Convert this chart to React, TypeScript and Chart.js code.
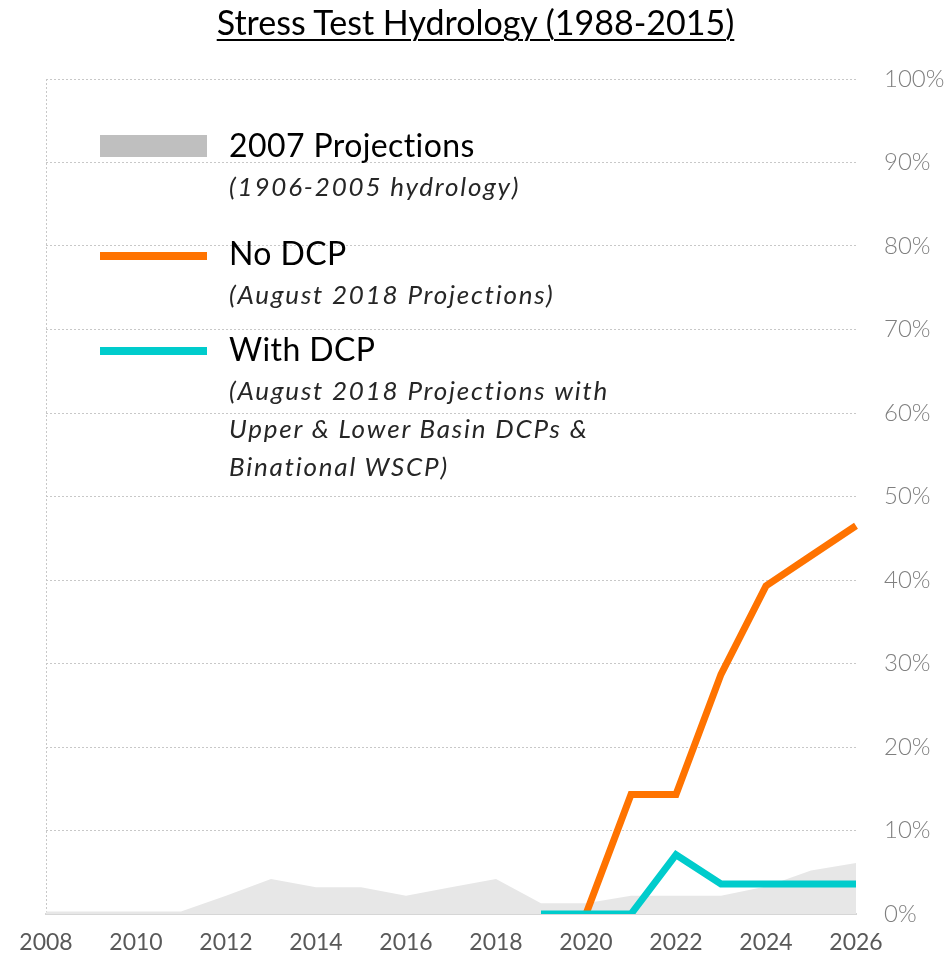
import React, { useEffect, useRef } from 'react';
import { Chart, registerables } from 'chart.js';

Chart.register(...registerables);

const years = ['2008', '2009', '2010', '2011', '2012', '2013', '2014', '2015', '2016', '2017', '2018', '2019', '2020', '2021', '2022', '2023', '2024', '2025', '2026'];
const projections2007 = [0.3, 0.3, 0.3, 0.3, 2.2, 4.2, 3.2, 3.2, 2.2, 3.2, 4.2, 1.3, 1.3, 2.2, 2.2, 2.2, 3.3, 5.2, 6.1];
const noDcp = [null, null, null, null, null, null, null, null, null, null, null, null, 0, 14.3, 14.3, 28.7, 39.3, 42.9, 46.5];
const withDcp = [null, null, null, null, null, null, null, null, null, null, null, 0, 0, 0, 7.1, 3.6, 3.6, 3.6, 3.6];

const FONT = 'Lato, "Open Sans", sans-serif';

const legendItems = [
  { text: '2007 Projections', top: 158, main: true },
  { text: '(1906-2005 hydrology)', top: 196.5, main: false },
  { text: 'No DCP', top: 266, main: true },
  { text: '(August 2018 Projections)', top: 304.5, main: false },
  { text: 'With DCP', top: 362, main: true },
  { text: '(August 2018 Projections with', top: 400.5, main: false },
  { text: 'Upper & Lower Basin DCPs &', top: 438.5, main: false },
  { text: 'Binational WSCP)', top: 476.5, main: false },
];

export default function App() {
  const ref = useRef<HTMLCanvasElement>(null);

  useEffect(() => {
    const lastIdx = years.length - 1;
    const chart = new Chart(ref.current as HTMLCanvasElement, {
      type: 'line',
      data: {
        labels: years,
        datasets: [
          {
            label: 'With DCP',
            data: withDcp,
            borderColor: '#00CCCC',
            borderWidth: 7,
            pointRadius: 0,
            fill: false,
            tension: 0,
            order: 0,
          },
          {
            label: 'No DCP',
            data: noDcp,
            borderColor: '#FF7300',
            borderWidth: 7,
            pointRadius: 0,
            fill: false,
            tension: 0,
            order: 1,
          },
          {
            label: '2007 Projections',
            data: projections2007,
            borderColor: 'rgba(0,0,0,0)',
            borderWidth: 1,
            backgroundColor: '#E7E7E7',
            fill: 'origin',
            pointRadius: 0,
            tension: 0,
            order: 2,
          },
        ],
      },
      options: {
        animation: false,
        responsive: false,
        layout: { padding: { left: 46, top: 79, right: 0, bottom: 0 } },
        plugins: {
          legend: { display: false },
          tooltip: { enabled: false },
          title: { display: false },
        },
        scales: {
          x: {
            type: 'category',
            offset: false,
            afterFit: (s: any) => { s.height = 39; },
            grid: {
              drawTicks: false,
              lineWidth: 1,
              color: (ctx: any) => (ctx.index === 0 || ctx.index === lastIdx ? '#C8C8C8' : 'rgba(0,0,0,0)'),
            },
            border: { display: true, color: '#D6D6D6', width: 2, dash: [2, 2] },
            ticks: {
              autoSkip: false,
              maxRotation: 0,
              padding: 15,
              color: '#595959',
              font: { family: FONT, size: 23, weight: 'normal' as any },
              callback: (_v: any, i: number) => (i % 2 === 0 ? years[i] : null),
            },
          },
          y: {
            position: 'right',
            min: 0,
            max: 100,
            afterFit: (s: any) => { s.width = 95; },
            grid: {
              drawTicks: true,
              tickLength: 25,
              tickColor: 'rgba(0,0,0,0)',
              color: '#C8C8C8',
              lineWidth: 1,
            },
            border: { display: false, dash: [2, 2] },
            ticks: {
              stepSize: 10,
              padding: 3,
              color: '#7F7F7F',
              font: { family: FONT, size: 24, weight: 300 as any },
              callback: (v: any) => v + '%',
            },
          },
        },
      },
    });
    return () => chart.destroy();
  }, []);

  return (
    <div style={{ position: 'absolute', left: 0, top: 0, width: 951, height: 953, background: '#fff' }}>
      <canvas ref={ref} width={951} height={953} style={{ position: 'absolute', left: 0, top: 0 }} />
      <div
        style={{
          position: 'absolute',
          left: 0,
          width: 951,
          top: 36 - 0.987 * 34,
          textAlign: 'center',
          fontFamily: FONT,
          fontSize: 34,
          lineHeight: 1.2,
          color: '#000',
          textDecoration: 'underline',
          textUnderlineOffset: 4,
          textDecorationThickness: 2,
          whiteSpace: 'nowrap',
        }}
      >
        Stress Test Hydrology (1988-2015)
      </div>
      <div style={{ position: 'absolute', left: 100, top: 135, width: 107, height: 22, background: '#BFBFBF' }} />
      <div style={{ position: 'absolute', left: 100, top: 252, width: 107, height: 8, background: '#FF7300' }} />
      <div style={{ position: 'absolute', left: 100, top: 347, width: 107, height: 8, background: '#00CCCC' }} />
      {legendItems.map((it) => {
        const fs = it.main ? 32 : 26;
        return (
          <div
            key={it.text}
            style={{
              position: 'absolute',
              left: 229,
              top: it.top - 0.987 * fs,
              fontFamily: FONT,
              fontSize: fs,
              lineHeight: 1.2,
              fontStyle: it.main ? 'normal' : 'italic',
              letterSpacing: it.main ? 0.4 : 1.8,
              color: it.main ? '#000' : '#262626',
              whiteSpace: 'nowrap',
              pointerEvents: 'none',
            }}
          >
            {it.text}
          </div>
        );
      })}
    </div>
  );
}
